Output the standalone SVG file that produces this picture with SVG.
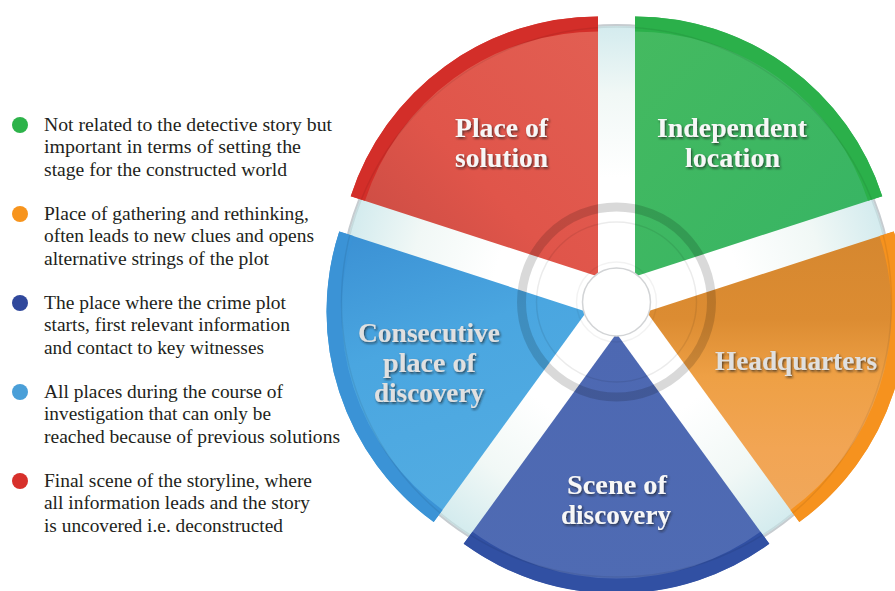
<svg xmlns="http://www.w3.org/2000/svg" width="895" height="591" viewBox="0 0 895 591">
  <defs>
    <style>
      .legend text { font-family: "Liberation Serif", "Times New Roman", serif; font-size: 19px; fill: #231f20; }
      .label { font-family: "Liberation Serif", "Times New Roman", serif; font-size: 27px; font-weight: bold; fill: #f7f7f7; text-anchor: middle; filter: url(#shadow); }
      .label.soft { fill: #e0e0e0; }
      .band { fill: none; stroke-width: 15; }
    </style>
    <filter id="shadow" x="-10%" y="-30%" width="120%" height="160%">
      <feDropShadow dx="1.2" dy="1.6" stdDeviation="0.9" flood-color="#1e1e1e" flood-opacity="0.7"/>
    </filter>
    <radialGradient id="disc" cx="616.5" cy="302" r="277" gradientUnits="userSpaceOnUse">
      <stop offset="0" stop-color="#ffffff"/>
      <stop offset="0.45" stop-color="#ffffff"/>
      <stop offset="0.75" stop-color="#f1f8f6"/>
      <stop offset="1" stop-color="#d3ebee"/>
    </radialGradient>
    <linearGradient id="gRed" x1="0" y1="1" x2="1" y2="0">
      <stop offset="0" stop-color="#c54a42"/>
      <stop offset="0.45" stop-color="#e0554a"/>
      <stop offset="1" stop-color="#e25f53"/>
    </linearGradient>
    <linearGradient id="gGreen" x1="0" y1="0" x2="1" y2="1">
      <stop offset="0" stop-color="#45ba60"/>
      <stop offset="1" stop-color="#36b464"/>
    </linearGradient>
    <linearGradient id="gOrange" x1="0" y1="0" x2="0" y2="1">
      <stop offset="0" stop-color="#d5872f"/>
      <stop offset="0.3" stop-color="#dc8c32"/>
      <stop offset="0.5" stop-color="#eea045"/>
      <stop offset="0.75" stop-color="#f2a554"/>
      <stop offset="1" stop-color="#f0a85c"/>
    </linearGradient>
    <linearGradient id="gBlue" x1="0" y1="0" x2="0" y2="1">
      <stop offset="0" stop-color="#4d68b2"/>
      <stop offset="1" stop-color="#4f6bb3"/>
    </linearGradient>
    <linearGradient id="gSky" x1="0" y1="0" x2="0.3" y2="1">
      <stop offset="0" stop-color="#3a8fd3"/>
      <stop offset="0.45" stop-color="#4aa6e0"/>
      <stop offset="1" stop-color="#52ace2"/>
    </linearGradient>
  </defs>

  <rect width="895" height="591" fill="#ffffff"/>

  <!-- legend -->
  <g id="legend" class="legend" font-family="'Liberation Serif', 'Times New Roman', serif" font-size="19">
    <g id="legend-independent">
      <circle cx="20" cy="125" r="8" fill="#2db34a"/>
      <text x="44" y="131" textLength="288" lengthAdjust="spacingAndGlyphs">Not related to the detective story but</text>
      <text x="44" y="153.3" textLength="257" lengthAdjust="spacingAndGlyphs">important in terms of setting the</text>
      <text x="44" y="175.6" textLength="243" lengthAdjust="spacingAndGlyphs">stage for the constructed world</text>
    </g>
    <g id="legend-headquarters">
      <circle cx="20" cy="214" r="8" fill="#f7941d"/>
      <text x="44" y="220" textLength="265" lengthAdjust="spacingAndGlyphs">Place of gathering and rethinking,</text>
      <text x="44" y="242.3" textLength="270" lengthAdjust="spacingAndGlyphs">often leads to new clues and opens</text>
      <text x="44" y="264.6" textLength="225" lengthAdjust="spacingAndGlyphs">alternative strings of the plot</text>
    </g>
    <g id="legend-scene">
      <circle cx="20" cy="303" r="8" fill="#30489c"/>
      <text x="44" y="309" textLength="242" lengthAdjust="spacingAndGlyphs">The place where the crime plot</text>
      <text x="44" y="331.3" textLength="246" lengthAdjust="spacingAndGlyphs">starts, first relevant information</text>
      <text x="44" y="353.6" textLength="220" lengthAdjust="spacingAndGlyphs">and contact to key witnesses</text>
    </g>
    <g id="legend-consecutive">
      <circle cx="20" cy="392" r="8" fill="#4a9fd8"/>
      <text x="44" y="398" textLength="239" lengthAdjust="spacingAndGlyphs">All places during the course of</text>
      <text x="44" y="420.3" textLength="227" lengthAdjust="spacingAndGlyphs">investigation that can only be</text>
      <text x="44" y="442.6" textLength="296" lengthAdjust="spacingAndGlyphs">reached because of previous solutions</text>
    </g>
    <g id="legend-solution">
      <circle cx="20" cy="481" r="8" fill="#d7302b"/>
      <text x="44" y="487" textLength="268" lengthAdjust="spacingAndGlyphs">Final scene of the storyline, where</text>
      <text x="44" y="509.3" textLength="266" lengthAdjust="spacingAndGlyphs">all information leads and the story</text>
      <text x="44" y="531.6" textLength="239" lengthAdjust="spacingAndGlyphs">is uncovered i.e. deconstructed</text>
    </g>
  </g>

  <!-- disc behind the wheel -->
  <g id="disc">
    <circle cx="616.5" cy="302" r="277" fill="url(#disc)" stroke="#c6ccd0" stroke-width="2"/>
  </g>

  <!-- wheel segments -->
  <g id="wheel" font-family="'Liberation Serif', 'Times New Roman', serif" font-size="27" font-weight="bold">
    <g id="seg-solution">
      <path d="M598,276.5 L350.73,196.16 A260,260 0 0 1 598,16.5 Z" fill="url(#gRed)"/>
      <path class="band" d="M357.86,198.47 A252.5,252.5 0 0 1 598,24" stroke="#d32e29"/>
      <text class="label" x="501.5" y="137" textLength="93" lengthAdjust="spacingAndGlyphs">Place of</text>
      <text class="label" x="501.5" y="167" textLength="93" lengthAdjust="spacingAndGlyphs">solution</text>
    </g>
    <g id="seg-independent">
      <path d="M635,276.5 L635,16.5 A260,260 0 0 1 882.27,196.16 Z" fill="url(#gGreen)"/>
      <path class="band" d="M635,24 A252.5,252.5 0 0 1 875.14,198.47" stroke="#2bb04a"/>
      <text class="label" x="732" y="137" textLength="150" lengthAdjust="spacingAndGlyphs">Independent</text>
      <text class="label" x="732.5" y="167" textLength="95" lengthAdjust="spacingAndGlyphs">location</text>
    </g>
    <g id="seg-headquarters">
      <path d="M646.46,311.73 L893.73,231.39 A260,260 0 0 1 799.28,522.07 Z" fill="url(#gOrange)"/>
      <path class="band" d="M886.6,233.7 A252.5,252.5 0 0 1 794.88,516.01" stroke="#f6921e"/>
      <text class="label soft" x="796" y="370" textLength="162" lengthAdjust="spacingAndGlyphs">Headquarters</text>
    </g>
    <g id="seg-scene">
      <path d="M616.5,333.5 L769.32,543.84 A260,260 0 0 1 463.68,543.84 Z" fill="url(#gBlue)"/>
      <path class="band" d="M764.92,537.78 A252.5,252.5 0 0 1 468.08,537.78" stroke="#3150a3"/>
      <text class="label" x="617" y="493.5" textLength="100" lengthAdjust="spacingAndGlyphs">Scene of</text>
      <text class="label" x="616" y="523.5" textLength="110" lengthAdjust="spacingAndGlyphs">discovery</text>
    </g>
    <g id="seg-consecutive">
      <path d="M586.54,311.73 L433.72,522.07 A260,260 0 0 1 339.27,231.39 Z" fill="url(#gSky)"/>
      <path class="band" d="M438.12,516.01 A252.5,252.5 0 0 1 346.4,233.7" stroke="#3b93d6"/>
      <text class="label soft" x="429" y="342" textLength="142" lengthAdjust="spacingAndGlyphs">Consecutive</text>
      <text class="label soft" x="429.5" y="372" textLength="93" lengthAdjust="spacingAndGlyphs">place of</text>
      <text class="label soft" x="429" y="402" textLength="110" lengthAdjust="spacingAndGlyphs">discovery</text>
    </g>
  </g>

  <!-- disc rim and hub rings showing through the segments -->
  <g id="hub">
    <circle cx="616.5" cy="302" r="275" fill="none" stroke="#000" stroke-opacity="0.07" stroke-width="1.5"/>
    <circle cx="616.5" cy="302" r="95" fill="none" stroke="#000" stroke-opacity="0.15" stroke-width="9"/>
    <circle cx="616.5" cy="302" r="80" fill="none" stroke="#000" stroke-opacity="0.08" stroke-width="1.5"/>
    <circle cx="616.5" cy="302" r="40" fill="none" stroke="#000" stroke-opacity="0.05" stroke-width="1.5"/>
    <circle cx="616.5" cy="302" r="34" fill="#ffffff" stroke="#d2d4d6" stroke-width="1.5"/>
  </g>
</svg>
